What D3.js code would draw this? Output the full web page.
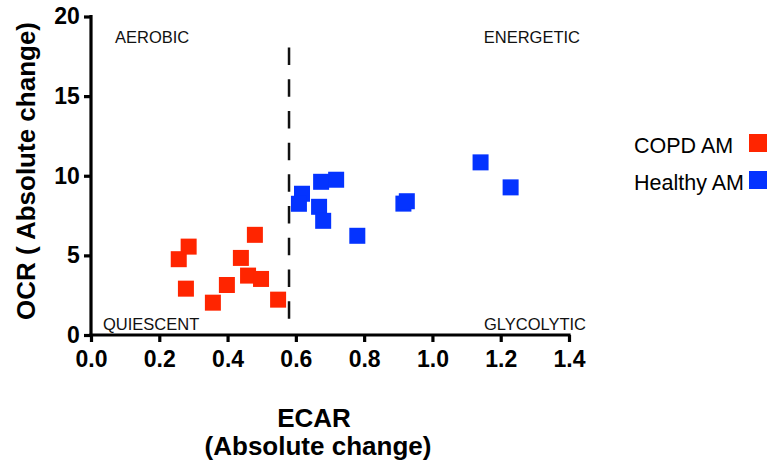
<!DOCTYPE html>
<html>
<head>
<meta charset="utf-8">
<script src="https://cdn.jsdelivr.net/npm/d3@7"></script>
<style>
  html, body { margin: 0; padding: 0; background: #fff; }
  svg { display: block; }
</style>
</head>
<body>
<svg id="chart" width="771" height="468"></svg>
<script>
// ---- data ----
const copdEcar = [0.257, 0.286, 0.278, 0.357, 0.398, 0.439, 0.460, 0.498, 0.480, 0.548];
const copdOcr  = [4.76, 5.55, 2.91, 2.03, 3.14, 4.84, 3.73, 3.52, 6.29, 2.22];
const healthyEcar = [0.618, 0.609, 0.674, 0.718, 0.668, 0.680, 0.780, 0.915, 0.925, 1.141, 1.229];
const healthyOcr  = [8.87, 8.24, 9.62, 9.75, 8.05, 7.17, 6.23, 8.25, 8.40, 10.84, 9.27];
const xTicks = [0, 0.2, 0.4, 0.6, 0.8, 1.0, 1.2, 1.4];
const yTicks = [0, 5, 10, 15, 20];
const seriesNames = ["COPD AM", "Healthy AM"];
const seriesColors = ["#ff2500", "#0433ff"];
const thresholdEcar = 0.58;
const quadrantLabels = ["AEROBIC", "ENERGETIC", "QUIESCENT", "GLYCOLYTIC"];

const svg = d3.select("#chart");
const x = d3.scaleLinear().domain([0, 1.4]).range([91, 569]);
const y = d3.scaleLinear().domain([0, 20]).range([335, 16.5]);

const font = "'Liberation Sans', Arial, Helvetica, sans-serif";

// axes
const xAxis = svg.append("g").attr("transform", "translate(0,335)")
  .call(d3.axisBottom(x).tickValues(xTicks).tickFormat(d3.format(".1f")).tickSize(7).tickSizeOuter(0));
const yAxis = svg.append("g").attr("transform", `translate(${x(0)},0)`)
  .call(d3.axisLeft(y).tickValues(yTicks).tickFormat(d3.format("d")).tickSize(7).tickSizeOuter(0));
[xAxis, yAxis].forEach(g => {
  g.select(".domain").attr("stroke", "#000").attr("stroke-width", 3.2);
  g.selectAll(".tick line").attr("stroke", "#000").attr("stroke-width", 3.2);
  g.selectAll(".tick text").attr("fill", "#000")
    .style("font-family", font).style("font-weight", "bold").style("font-size", "23px");
});
xAxis.select(".domain").attr("d", `M${x(0) - 1.6},0H${x(1.4) + 1.6}`);
yAxis.select(".domain").attr("d", `M0,${y(20) - 1.6}V${335 + 1.6}`);
xAxis.selectAll(".tick text").attr("dy", "0.95em");
yAxis.selectAll(".tick text").attr("dx", "-0.05em");

// threshold dashed line
svg.append("line")
  .attr("x1", x(thresholdEcar)).attr("x2", x(thresholdEcar))
  .attr("y1", y(18.05)).attr("y2", y(0.8))
  .attr("stroke", "#111").attr("stroke-width", 2.5)
  .attr("stroke-dasharray", "17.5,14.2");

// quadrant labels
const ql = svg.append("g").style("font-family", font).style("font-size", "16.5px").attr("fill", "#111");
ql.append("text").attr("x", 115).attr("y", 43).text(quadrantLabels[0]);
ql.append("text").attr("x", 580).attr("y", 43).attr("text-anchor", "end").text(quadrantLabels[1]);
ql.append("text").attr("x", 103).attr("y", 330).text(quadrantLabels[2]);
ql.append("text").attr("x", 586).attr("y", 330).attr("text-anchor", "end").text(quadrantLabels[3]);

// points
const s = 16;
const series = [
  { name: seriesNames[0], color: seriesColors[0], xs: copdEcar, ys: copdOcr },
  { name: seriesNames[1], color: seriesColors[1], xs: healthyEcar, ys: healthyOcr }
];
series.forEach(sr => {
  svg.append("g").selectAll("rect").data(sr.xs.map((v, i) => [v, sr.ys[i]]))
    .join("rect")
    .attr("x", d => x(d[0]) - s / 2).attr("y", d => y(d[1]) - s / 2)
    .attr("width", s).attr("height", s).attr("fill", sr.color);
});

// axis titles
svg.append("text")
  .attr("transform", `translate(35,171) rotate(-90)`)
  .attr("text-anchor", "middle")
  .style("font-family", font).style("font-weight", "bold").style("font-size", "26px")
  .text("OCR ( Absolute change)");
const xt = svg.append("text").attr("text-anchor", "middle")
  .style("font-family", font).style("font-weight", "bold").style("font-size", "26px");
xt.append("tspan").attr("x", 314).attr("y", 427).text("ECAR");
xt.append("tspan").attr("x", 318).attr("y", 455).text("(Absolute change)");

// legend
const lg = svg.append("g");
series.forEach((sr, i) => {
  const base = 153 + i * 37;
  lg.append("text").attr("x", 634).attr("y", base)
    .style("font-family", font).style("font-size", "21.5px").attr("fill", "#000")
    .text(sr.name);
  lg.append("rect").attr("x", 749).attr("y", base - 19).attr("width", 18).attr("height", 18)
    .attr("fill", sr.color);
});
</script>
</body>
</html>
